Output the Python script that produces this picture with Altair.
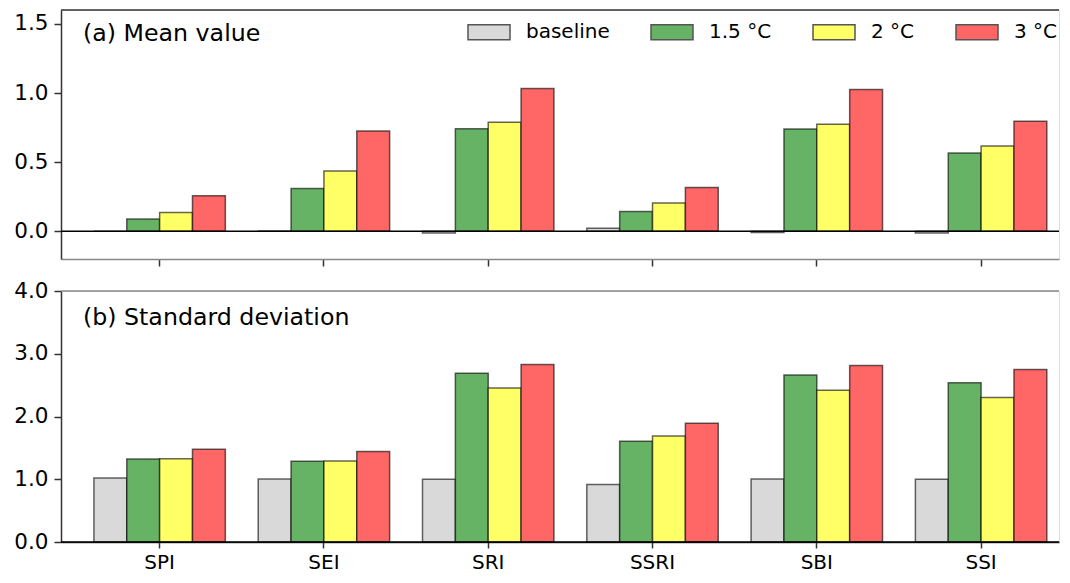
import altair as alt
import pandas as pd

# ---------------- data ----------------
categories = ["SPI", "SEI", "SRI", "SSRI", "SBI", "SSI"]
scenarios = ["baseline", "1.5 °C", "2 °C", "3 °C"]
colors = ["#d9d9d9", "#66b366", "#ffff66", "#ff6666"]

mean_baseline = [0.0, 0.003, -0.012, 0.023, -0.008, -0.012]
mean_15 = [0.089, 0.310, 0.742, 0.143, 0.739, 0.566]
mean_2 = [0.136, 0.437, 0.789, 0.204, 0.775, 0.617]
mean_3 = [0.258, 0.725, 1.033, 0.317, 1.026, 0.796]

sd_baseline = [1.02, 1.005, 1.0, 0.917, 1.005, 1.0]
sd_15 = [1.323, 1.286, 2.690, 1.604, 2.661, 2.536]
sd_2 = [1.328, 1.292, 2.453, 1.688, 2.417, 2.302]
sd_3 = [1.479, 1.443, 2.828, 1.891, 2.812, 2.750]

mean_ticks = [0.0, 0.5, 1.0, 1.5]
sd_ticks = [0.0, 1.0, 2.0, 3.0, 4.0]


def long_df(series):
    rows = []
    for scen, vals in zip(scenarios, series):
        for cat, v in zip(categories, vals):
            rows.append({"index": cat, "scenario": scen, "value": v})
    return pd.DataFrame(rows)


df_mean = long_df([mean_baseline, mean_15, mean_2, mean_3])
df_sd = long_df([sd_baseline, sd_15, sd_2, sd_3])

# ---------------- layout ----------------
W = 998
H_TOP = 249
H_BOT = 251
FONT = "DejaVu Sans"
SPINE = "#333333"
SPINE_LIGHT = "#888888"

x_scale = alt.Scale(paddingInner=0.2, paddingOuter=0.1372, align=0.73, round=False)
off_scale = alt.Scale(paddingInner=0, paddingOuter=0)


def y_axis(vals):
    return alt.Axis(title=None, values=vals, format=".1f", tickSize=7, tickWidth=1.5,
                    tickColor=SPINE, domainColor=SPINE, domainWidth=1.5,
                    labelFontSize=21.5, labelPadding=6, grid=False, labelColor="black",
                    labelFont=FONT)


legend = alt.Legend(
    title=None, orient="none", legendX=406, legendY=0, direction="horizontal",
    columns=4, columnPadding=38, labelOffset=15, labelFontSize=20, labelFont=FONT,
    labelColor="black",
    symbolType="M-1,-0.357L1,-0.357L1,0.357L-1,0.357Z", symbolSize=1764,
    symbolStrokeColor="#555555", symbolStrokeWidth=1.5, symbolOpacity=1,
)


def panel(df, domain, ticks, label, label_y, show_x_labels, light_top, show_legend, height):
    color = alt.Color("scenario:N", sort=scenarios,
                      scale=alt.Scale(domain=scenarios, range=colors),
                      legend=legend if show_legend else None)
    if show_x_labels:
        xaxis = alt.Axis(title=None, labelAngle=0, tickSize=6, tickWidth=1.5, tickColor=SPINE,
                         domainColor=SPINE, domainWidth=1.5, labelFontSize=20,
                         labelPadding=4, labelColor="black", labelFont=FONT)
    else:
        xaxis = alt.Axis(title=None, labels=False, tickSize=7, tickWidth=1.5, tickColor=SPINE,
                         domainColor=SPINE_LIGHT, domainWidth=1.5)
    bars = alt.Chart(df).mark_bar(
        stroke="black", strokeOpacity=0.6, strokeWidth=1.5
    ).encode(
        x=alt.X("index:N", sort=categories, scale=x_scale, axis=xaxis),
        xOffset=alt.XOffset("scenario:N", sort=scenarios, scale=off_scale),
        y=alt.Y("value:Q", scale=alt.Scale(domain=domain, nice=False), axis=y_axis(ticks)),
        y2=alt.datum(0),
        color=color,
    )
    one = pd.DataFrame({"t": [label]})
    zero = alt.Chart(one).mark_rule(color="black", strokeWidth=1.5).encode(
        y=alt.datum(0), x=alt.value(0), x2=alt.value(W))
    top = alt.Chart(one).mark_rule(
        color=SPINE_LIGHT if light_top else SPINE, strokeWidth=1.5
    ).encode(y=alt.value(0), x=alt.value(0), x2=alt.value(W))
    txt = alt.Chart(one).mark_text(
        align="left", baseline="alphabetic", fontSize=23.7, font=FONT, color="black"
    ).encode(x=alt.value(22), y=alt.value(label_y), text="t:N")
    return alt.layer(bars, zero, top, txt).properties(width=W, height=height)


top_panel = panel(df_mean, [-0.2, 1.6], mean_ticks, "(a) Mean value", 31, False, False, True, H_TOP)
bot_panel = panel(df_sd, [0, 4], sd_ticks, "(b) Standard deviation", 34, True, True, False, H_BOT)

chart = alt.vconcat(top_panel, bot_panel, spacing=32).properties(
    bounds="flush",
    padding={"left": 5, "top": 0, "right": 0, "bottom": 2},
).resolve_scale(color="independent").resolve_legend(color="independent").configure_view(
    stroke=None
).configure(font=FONT)

chart.save("out.html", embed_options={"renderer": "svg", "actions": False})
